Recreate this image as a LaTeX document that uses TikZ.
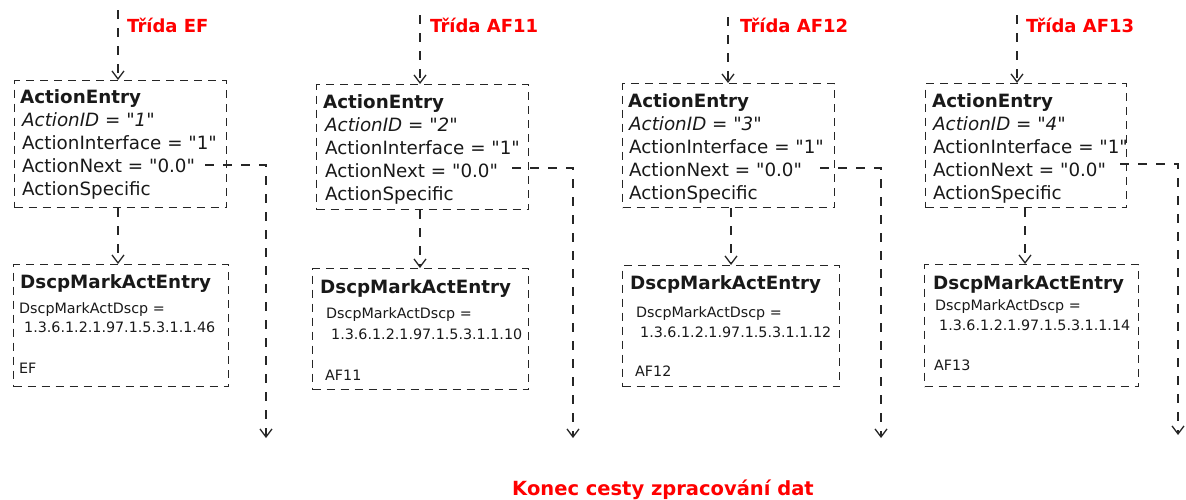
\documentclass[tikz,border=0pt]{standalone}
\usepackage{fontspec}
\newfontfamily\dv{DejaVu Sans}
\setmainfont{DejaVu Sans}
\usetikzlibrary{arrows.meta}
\begin{document}
\begin{tikzpicture}[x=1pt,y=-1pt,
  box/.style={draw=black!85, dash pattern=on 8pt off 6pt, line width=1.3pt, inner sep=0pt, anchor=north west},
  flow/.style={draw=black!85, dash pattern=on 9pt off 9pt, line width=1.3pt, -{Straight Barb[length=8pt,width=12pt,line width=1.3pt]}},
  txt/.style={anchor=base west, inner sep=0pt, font=\dv\fontsize{18.3}{21}\selectfont, text=black!90},
  ttl/.style={anchor=base west, inner sep=0pt, font=\dv\fontsize{18.3}{21}\selectfont\bfseries, text=black!90},
  sml/.style={anchor=base west, inner sep=0pt, font=\dv\fontsize{14.3}{17}\selectfont, text=black!90},
  lbl/.style={anchor=base west, inner sep=0pt, font=\dv\fontsize{18}{21}\selectfont\bfseries, text=red},
]
\useasboundingbox (0,0) rectangle (1186,499);

% boxes
\node[box, minimum width=212pt, minimum height=127pt] (a1) at (14,80) {};
\node[box, minimum width=212pt, minimum height=125pt] (a2) at (316,84) {};
\node[box, minimum width=212pt, minimum height=124pt] (a3) at (622,83) {};
\node[box, minimum width=201pt, minimum height=124pt] (a4) at (925,83) {};
\node[box, minimum width=215pt, minimum height=122pt] (d1) at (13,264) {};
\node[box, minimum width=216pt, minimum height=121pt] (d2) at (312,268) {};
\node[box, minimum width=217pt, minimum height=121pt] (d3) at (622,265) {};
\node[box, minimum width=214pt, minimum height=122pt] (d4) at (924,264) {};

% ActionEntry texts
\node[ttl] (a1t) at (20,103.5) {ActionEntry};
\node[txt] (a1i) at (22,126.5) {\itshape ActionID = "1"};
\node[txt] (a1f) at (22,149.5) {ActionInterface = "1"};
\node[txt] (a1n) at (22,172.5) {ActionNext = "0.0"};
\node[txt] (a1s) at (22,195.5) {ActionSpecific};

\node[ttl] (a2t) at (323,108.5) {ActionEntry};
\node[txt] (a2i) at (325,131.5) {\itshape ActionID = "2"};
\node[txt] (a2f) at (325,154.5) {ActionInterface = "1"};
\node[txt] (a2n) at (325,177.5) {ActionNext = "0.0"};
\node[txt] (a2s) at (325,200.5) {ActionSpecific};

\node[ttl] (a3t) at (628,107.5) {ActionEntry};
\node[txt] (a3i) at (629,130.5) {\itshape ActionID = "3"};
\node[txt] (a3f) at (629,153.5) {ActionInterface = "1"};
\node[txt] (a3n) at (629,176.5) {ActionNext = "0.0"};
\node[txt] (a3s) at (629,199.5) {ActionSpecific};

\node[ttl] (a4t) at (932,107.5) {ActionEntry};
\node[txt] (a4i) at (933,130.5) {\itshape ActionID = "4"};
\node[txt] (a4f) at (933,153.5) {ActionInterface = "1"};
\node[txt] (a4n) at (933,176.5) {ActionNext = "0.0"};
\node[txt] (a4s) at (933,199.5) {ActionSpecific};

% Dscp texts
\node[ttl] (d1t) at (20,288.5) {DscpMarkActEntry};
\node[sml] (d1a) at (19,313) {DscpMarkActDscp =};
\node[sml] (d1b) at (24,332) {1.3.6.1.2.1.97.1.5.3.1.1.46};
\node[sml] (d1c) at (19,373) {EF};

\node[ttl] (d2t) at (320,293.5) {DscpMarkActEntry};
\node[sml] (d2a) at (326,318) {DscpMarkActDscp =};
\node[sml] (d2b) at (331,339) {1.3.6.1.2.1.97.1.5.3.1.1.10};
\node[sml] (d2c) at (325,380) {AF11};

\node[ttl] (d3t) at (630,289.5) {DscpMarkActEntry};
\node[sml] (d3a) at (636,317) {DscpMarkActDscp =};
\node[sml] (d3b) at (640,337) {1.3.6.1.2.1.97.1.5.3.1.1.12};
\node[sml] (d3c) at (635,376) {AF12};

\node[ttl] (d4t) at (933,289.5) {DscpMarkActEntry};
\node[sml] (d4a) at (935,310) {DscpMarkActDscp =};
\node[sml] (d4b) at (939,330) {1.3.6.1.2.1.97.1.5.3.1.1.14};
\node[sml] (d4c) at (934,370) {AF13};

% labels
\node[lbl] (l1) at (127,32.5) {Třída EF};
\node[lbl] (l2) at (430,32.5) {Třída AF11};
\node[lbl] (l3) at (740,32.5) {Třída AF12};
\node[lbl] (l4) at (1026,32.5) {Třída AF13};
\node[lbl, anchor=base, font=\dv\fontsize{19.5}{22}\selectfont\bfseries] (end) at (663,495) {Konec cesty zpracování dat};

% coordinates
\coordinate (t1) at (118,10);
\coordinate (t2) at (420,15);
\coordinate (t3) at (728,17);
\coordinate (t4) at (1017,15);
\coordinate (m1) at (118,0);
\coordinate (m2) at (420,0);
\coordinate (m3) at (731,0);
\coordinate (m4) at (1025,0);
\coordinate (n1) at (205,165);
\coordinate (n2) at (512,168);
\coordinate (n3) at (820,168);
\coordinate (n4) at (1120,164);
\coordinate (e1) at (266,438);
\coordinate (e2) at (573,438);
\coordinate (e3) at (881,438);
\coordinate (e4) at (1178,435);

% connectors
\foreach \i in {1,2,3,4}{
  \draw[flow] (t\i) -- (t\i |- a\i.north);
  \draw[flow] (a\i.south -| m\i) -- (d\i.north -| m\i);
  \draw[flow] (n\i) -| (e\i);
}
\end{tikzpicture}
\end{document}
